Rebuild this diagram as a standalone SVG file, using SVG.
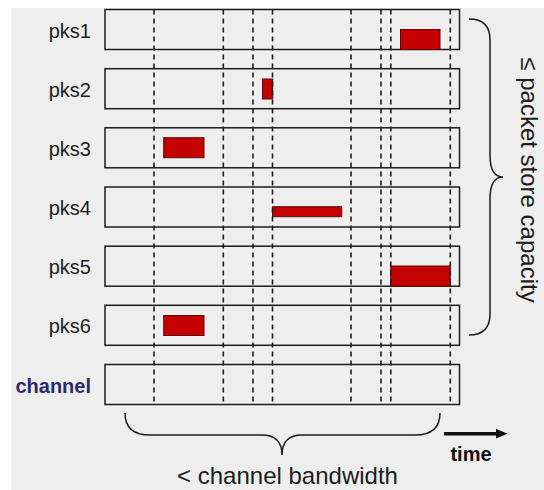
<svg xmlns="http://www.w3.org/2000/svg" width="544" height="490" viewBox="0 0 544 490">
  <style>
    .lane { fill: #eeeeee; stroke: #1c1c1c; stroke-width: 1.5; }
    .pkt { fill: #c40000; stroke: #5a0a0a; stroke-width: 1; }
    .lbl { font-family: "Liberation Sans", Arial, sans-serif; font-size: 20px; fill: #1c1c1c; text-anchor: end; }
    .chan { font-family: "Liberation Sans", Arial, sans-serif; font-size: 20px; font-weight: bold; fill: #2d2a70; text-anchor: end; }
    .tick { stroke: #1c1c1c; stroke-width: 1.6; stroke-dasharray: 5 4; fill: none; }
    .brace { fill: none; stroke: #1c1c1c; stroke-width: 1.5; }
    .note { font-family: "Liberation Sans", Arial, sans-serif; font-size: 24px; fill: #1c1c1c; }
  </style>

  <!-- canvas -->
  <rect x="0" y="0" width="544" height="490" fill="#ffffff"/>
  <rect x="11" y="8" width="533" height="482" fill="#eeeeee"/>

  <!-- packet stores -->
  <g id="pks1">
    <rect class="lane" x="105" y="9.5" width="354.5" height="40"/>
    <text class="lbl" x="91" y="37.5">pks1</text>
    <rect class="pkt" x="400.5" y="29.5" width="39.5" height="20"/>
  </g>
  <g id="pks2">
    <rect class="lane" x="105" y="68.7" width="354.5" height="40"/>
    <text class="lbl" x="91" y="96.7">pks2</text>
    <rect class="pkt" x="262.5" y="79" width="10.2" height="20"/>
  </g>
  <g id="pks3">
    <rect class="lane" x="105" y="127.8" width="354.5" height="40"/>
    <text class="lbl" x="91" y="155.8">pks3</text>
    <rect class="pkt" x="163.7" y="137.7" width="40.3" height="20"/>
  </g>
  <g id="pks4">
    <rect class="lane" x="105" y="187" width="354.5" height="40"/>
    <text class="lbl" x="91" y="215">pks4</text>
    <rect class="pkt" x="272.5" y="206.7" width="69.2" height="10"/>
  </g>
  <g id="pks5">
    <rect class="lane" x="105" y="246.2" width="354.5" height="40"/>
    <text class="lbl" x="91" y="274.2">pks5</text>
    <rect class="pkt" x="390.7" y="266" width="59.6" height="20.2"/>
  </g>
  <g id="pks6">
    <rect class="lane" x="105" y="305.3" width="354.5" height="40"/>
    <text class="lbl" x="91" y="333.3">pks6</text>
    <rect class="pkt" x="163.7" y="315.5" width="40.3" height="20"/>
  </g>
  <g id="channel">
    <rect class="lane" x="105" y="364.5" width="354.5" height="40"/>
    <text class="chan" x="91" y="392.5">channel</text>
  </g>

  <!-- connectors: time markers, braces, time arrow -->
  <g id="connectors">
    <g id="time-markers">
      <line class="tick" x1="154" y1="9.5" x2="154" y2="404.5"/>
      <line class="tick" x1="223.3" y1="9.5" x2="223.3" y2="404.5"/>
      <line class="tick" x1="253" y1="9.5" x2="253" y2="404.5"/>
      <line class="tick" x1="272.5" y1="9.5" x2="272.5" y2="404.5"/>
      <line class="tick" x1="351" y1="9.5" x2="351" y2="404.5"/>
      <line class="tick" x1="381" y1="9.5" x2="381" y2="404.5"/>
      <line class="tick" x1="390.8" y1="9.5" x2="390.8" y2="404.5"/>
      <line class="tick" x1="450.3" y1="9.5" x2="450.3" y2="404.5"/>
    </g>
    <path id="store-brace" class="brace" d="M469,19 Q490,19 490,40 L490,155 Q490,177 503,177 Q490,177 490,199 L490,314 Q490,335 469,335"/>
    <path id="bandwidth-brace" class="brace" d="M125,413 Q125,435 150,435 L262,435 Q282,435 282,455 Q282,435 302,435 L415,435 Q440,435 440,413"/>
    <g id="time-arrow">
      <line x1="444" y1="433.7" x2="498" y2="433.7" stroke="#111111" stroke-width="3.5"/>
      <polygon points="496,428.8 507.5,433.7 496,438.6" fill="#111111"/>
    </g>
  </g>

  <!-- annotations -->
  <text class="note" transform="translate(521,180) rotate(90)" text-anchor="middle">≤ packet store capacity</text>
  <text class="note" x="287.5" y="484" text-anchor="middle">&lt; channel bandwidth</text>
  <text x="471" y="461" text-anchor="middle" font-family="'Liberation Sans', Arial, sans-serif" font-size="20" font-weight="bold" fill="#111111">time</text>
</svg>
